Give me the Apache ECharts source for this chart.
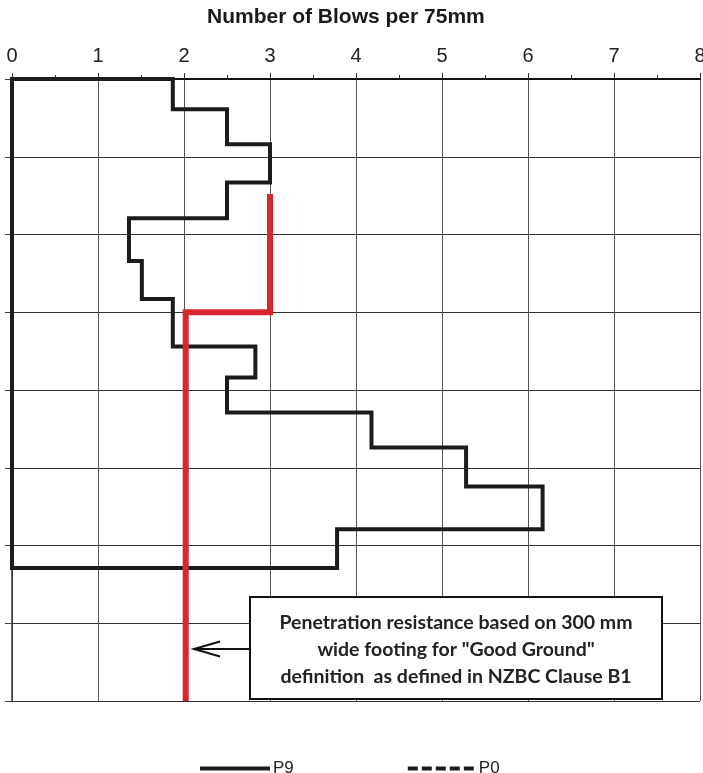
<!DOCTYPE html>
<html>
<head>
<meta charset="utf-8">
<script src="https://cdn.jsdelivr.net/npm/echarts@6/dist/echarts.min.js"></script>
<style>
html,body{margin:0;padding:0;background:#fff;}
#chart{width:703px;height:773px;}
</style>
</head>
<body>
<div id="chart"></div>
<script>
// Data
var xTicks = [0, 1, 2, 3, 4, 5, 6, 7, 8];
// P9: depth boundaries (grid units) and blows per 75mm in each interval
var p9Depth = [0, 0.39, 0.84, 1.33, 1.79, 2.34, 2.83, 3.44, 3.84, 4.29, 4.74, 5.24, 5.79, 6.29];
var p9Blows = [1.87, 2.5, 3.0, 2.5, 1.36, 1.51, 1.87, 2.83, 2.5, 4.18, 5.28, 6.17, 3.78];
// Good Ground criterion line
var ggDepth = [1.48, 3.0, 8.0];
var ggBlows = [3.0, 2.02];
var p0Blows = [];
var p0Depth = [];
var noteLines = ['Penetration resistance based on 300 mm', 'wide footing for "Good Ground"', 'definition  as defined in NZBC Clause B1'];

function stepPoints(blows, depth, closeToZero) {
  var pts = [];
  if (closeToZero) pts.push([0, depth[0]]);
  for (var i = 0; i < blows.length; i++) {
    pts.push([blows[i], depth[i]]);
    pts.push([blows[i], depth[i + 1]]);
  }
  if (closeToZero) { pts.push([0, depth[depth.length - 1]]); pts.push([0, depth[0]]); }
  return pts;
}
var p9Points = stepPoints(p9Blows, p9Depth, true);
var ggPoints = stepPoints(ggBlows, ggDepth, false);

var chart = echarts.init(document.getElementById('chart'), null, {renderer: 'canvas'});
var noteFont = 'bold 19.5px Lato, "Open Sans", sans-serif';
var option = {
  animation: false,
  backgroundColor: '#fff',
  title: {
    text: 'Number of Blows per 75mm',
    left: 202, top: 2,
    textStyle: {fontFamily: 'Liberation Sans, Arial', fontWeight: 'bold', fontSize: 21, color: '#1a1a1a'}
  },
  grid: {left: 12, right: 3, top: 79, bottom: 72, containLabel: false, outerBoundsMode: 'none'},
  xAxis: {
    type: 'value', position: 'top', min: 0, max: 8, interval: 1,
    axisLine: {show: true, lineStyle: {color: '#111', width: 2}},
    axisTick: {show: true, length: 6, lineStyle: {color: '#333', width: 1}},
    minorTick: {show: true, splitNumber: 2, length: 4, lineStyle: {color: '#333', width: 1}},
    axisLabel: {margin: 13, fontSize: 20, color: '#222', fontFamily: 'Liberation Sans, Arial',
      formatter: function (v) { return xTicks.indexOf(v) >= 0 ? String(v) : ''; }},
    splitLine: {show: true, lineStyle: {color: '#555', width: 1}}
  },
  yAxis: {
    type: 'value', inverse: true, min: 0, max: 8, interval: 1,
    axisLine: {show: true, lineStyle: {color: '#333', width: 1.5}},
    axisTick: {show: true, length: 7, lineStyle: {color: '#444', width: 1}},
    axisLabel: {show: false},
    splitLine: {show: true, lineStyle: {color: '#333', width: 1}}
  },
  legend: {
    data: ['P9', 'P0'],
    left: 195, top: 755,
    itemWidth: 66, itemHeight: 14, itemGap: 112,
    itemStyle: {opacity: 0},
    lineStyle: {width: 4},
    textStyle: {fontSize: 17, color: '#222', fontFamily: 'Liberation Sans, Arial'},
    selectedMode: false
  },
  series: [
    {
      name: 'P9', type: 'line', data: p9Points, symbol: 'none', clip: false,
      lineStyle: {color: '#1c1c1c', width: 4, join: 'miter', cap: 'square'},
      itemStyle: {color: '#1c1c1c'}, z: 3
    },
    {
      name: 'P0', type: 'line', data: p0Depth.map(function (d, i) { return [p0Blows[i], d]; }), symbol: 'none',
      lineStyle: {color: '#1c1c1c', width: 4, type: [10, 4]},
      itemStyle: {color: '#1c1c1c'}
    },
    {
      name: 'Good Ground', type: 'line', data: ggPoints, symbol: 'none', clip: false,
      lineStyle: {color: '#d8262e', width: 6, join: 'miter', cap: 'butt'},
      itemStyle: {color: '#d8262e'}, z: 4
    }
  ],
  graphic: [
    {type: 'line', shape: {x1: 250, y1: 649, x2: 195, y2: 649}, style: {stroke: '#111', lineWidth: 2}, z: 10},
    {type: 'polyline', shape: {points: [[220, 641.5], [194, 649], [220, 656.5]]}, style: {stroke: '#111', lineWidth: 2, fill: null}, z: 10},
    {type: 'rect', shape: {x: 250, y: 597, width: 412, height: 102}, style: {fill: '#fff', stroke: '#111', lineWidth: 2}, z: 10},
    {type: 'text', x: 456, y: 623, z: 11, style: {text: noteLines[0], fill: '#222', font: noteFont, textAlign: 'center', textVerticalAlign: 'middle'}},
    {type: 'text', x: 456, y: 650, z: 11, style: {text: noteLines[1], fill: '#222', font: noteFont, textAlign: 'center', textVerticalAlign: 'middle'}},
    {type: 'text', x: 456, y: 677, z: 11, style: {text: noteLines[2], fill: '#222', font: noteFont, textAlign: 'center', textVerticalAlign: 'middle'}}
  ]
};
chart.setOption(option);
</script>
</body>
</html>
